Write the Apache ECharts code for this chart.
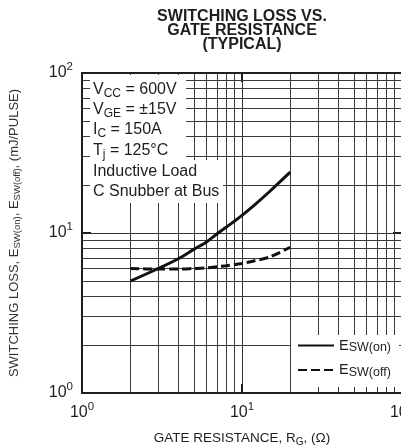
<!DOCTYPE html>
<html>
<head>
<meta charset="utf-8">
<script src="https://cdn.jsdelivr.net/npm/echarts@6/dist/echarts.min.js"></script>
<style>
html,body{margin:0;padding:0;background:#fff;}
#c{width:401px;height:447px;}
</style>
</head>
<body>
<div id="c"></div>
<script>
// Gate resistance (ohm) sample points
var rgOn = [2, 3, 4, 5, 6, 7, 8, 10, 12, 15, 20];
var eswOn = [5.0, 6.0, 6.9, 7.9, 8.8, 9.9, 10.9, 12.9, 15.0, 18.3, 24.0];
var rgOff = [2, 3, 4, 5, 6, 7, 8, 10, 12, 15, 20];
var eswOff = [6.0, 5.95, 5.95, 6.0, 6.05, 6.15, 6.25, 6.45, 6.7, 7.1, 8.15];
// minor grid values (log decades)
var minorX = [2, 3, 4, 5, 6, 7, 8, 9, 20, 30, 40, 50, 60, 70, 80, 90];
var minorY = [2, 3, 4, 5, 6, 7, 8, 9, 20, 30, 40, 50, 60, 70, 80, 90];
var seriesNames = ['E_SW(on)', 'E_SW(off)'];
var notes = [
  '{m|V}{s|CC}{m| = 600V}',
  '{m|V}{s|GE}{m| = \u00b115V}',
  '{m|I}{s|C}{m| = 150A}',
  '{m|T}{s|j}{m| = 125\u00b0C}',
  '{m|Inductive Load}',
  '{m|C Snubber at Bus}'
];

var FONT = 'Liberation Sans, Arial, Helvetica, sans-serif';
var INK = '#1e1e1e';

function pair(xs, ys) { return xs.map(function (x, i) { return [x, ys[i]]; }); }
function expLabel(v) {
  var e = Math.round(Math.log(v) / Math.LN10);
  return '{b|10}{p|' + e + '}';
}
var tickRich = {
  b: { fontSize: 16, lineHeight: 24, color: INK, fontFamily: FONT },
  p: { fontSize: 11.5, lineHeight: 11, color: INK, fontFamily: FONT, verticalAlign: 'top' }
};

var chart = echarts.init(document.getElementById('c'), null, { renderer: 'canvas' });

var baseAxis = {
  type: 'log', logBase: 10, min: 1, max: 100,
  axisLine: { show: true, lineStyle: { color: INK, width: 2 } },
  axisTick: { show: true, inside: true, length: 9, lineStyle: { color: INK, width: 2 } },
  splitLine: { show: false },
  minorTick: { show: false },
  axisLabel: { show: false }
};

var noteGraphics = [
  { type: 'rect', z: 50, shape: { x: 90, y: 75, width: 96, height: 86 }, style: { fill: '#fff' } },
  { type: 'rect', z: 50, shape: { x: 90, y: 160, width: 133, height: 43 }, style: { fill: '#fff' } }
];
var noteY = [80, 100, 120, 141, 162, 182];
notes.forEach(function (t, i) {
  noteGraphics.push({
    type: 'text', z: 60, x: 93, y: noteY[i],
    style: {
      text: t, fill: INK, fontFamily: FONT,
      rich: {
        m: { fontSize: 16, lineHeight: 20, fill: INK, fontFamily: FONT },
        s: { fontSize: 12, lineHeight: 12, fill: INK, fontFamily: FONT, verticalAlign: 'bottom' }
      }
    }
  });
});

var option = {
  animation: false,
  backgroundColor: '#fff',
  title: {
    text: 'SWITCHING LOSS VS.\nGATE RESISTANCE\n(TYPICAL)',
    left: 242, top: 10, padding: 0,
    textAlign: 'center',
    textStyle: { fontFamily: FONT, fontSize: 16, fontWeight: 'bold', lineHeight: 14, color: INK }
  },
  grid: { left: 82, top: 73, width: 320, height: 320, containLabel: false, outerBoundsMode: 'none' },
  legend: {
    data: seriesNames,
    orient: 'vertical',
    left: 291, top: 335,
    padding: [3, 8, 8, 6],
    itemWidth: 36, itemHeight: 14, itemGap: 8,
    backgroundColor: '#fff',
    z: 40,
    itemStyle: { opacity: 0, color: 'rgba(0,0,0,0)', borderWidth: 0 },
    formatter: function (name) {
      return '{e|E}{s|' + name.replace('E_', '') + '}';
    },
    textStyle: {
      color: INK, fontFamily: FONT,
      rich: {
        e: { fontSize: 14.5, lineHeight: 18, color: INK, fontFamily: FONT },
        s: { fontSize: 12.5, lineHeight: 13, color: INK, fontFamily: FONT, verticalAlign: 'bottom' }
      }
    }
  },
  xAxis: [
    Object.assign({}, baseAxis, {
      position: 'bottom',
      splitLine: { show: true, lineStyle: { color: '#333', width: 1 } },
      axisLabel: { show: true, margin: 8, formatter: expLabel, rich: tickRich, showMaxLabel: true, showMinLabel: true },
      name: '{a|GATE RESISTANCE, R}{s|G}{a|, (\u03a9)}',
      nameLocation: 'middle', nameGap: 36,
      nameTextStyle: {
        rich: {
          a: { fontSize: 13.5, lineHeight: 18, color: INK, fontFamily: FONT },
          s: { fontSize: 10, lineHeight: 10, color: INK, fontFamily: FONT, verticalAlign: 'bottom' }
        }
      }
    }),
    Object.assign({}, baseAxis, { position: 'top' })
  ],
  yAxis: [
    Object.assign({}, baseAxis, {
      position: 'left',
      splitLine: { show: true, lineStyle: { color: '#333', width: 1 } },
      axisLabel: { show: true, margin: 9, formatter: expLabel, rich: tickRich, showMaxLabel: true, showMinLabel: true },
      name: '{a|SWITCHING LOSS, E}{s|SW(on)}{a|, E}{s|SW(off)}{a|, (mJ/PULSE)}',
      nameLocation: 'middle', nameGap: 60, nameRotate: 90,
      nameTextStyle: {
        rich: {
          a: { fontSize: 13, lineHeight: 16, color: '#333', fontFamily: FONT },
          s: { fontSize: 9.5, lineHeight: 9, color: '#333', fontFamily: FONT, verticalAlign: 'bottom' }
        }
      }
    }),
    Object.assign({}, baseAxis, { position: 'right' })
  ],
  graphic: noteGraphics,
  series: [
    {
      name: 'grid', type: 'line', z: 1, silent: true,
      data: [], showSymbol: false,
      markLine: {
        silent: true, symbol: ['none', 'none'], animation: false,
        label: { show: false },
        lineStyle: { color: '#3a3a3a', width: 1, type: 'solid' },
        emphasis: { disabled: true },
        data: minorX.map(function (v) { return { xAxis: v }; })
          .concat(minorY.map(function (v) { return { yAxis: v }; }))
      }
    },
    {
      name: seriesNames[0], type: 'line', z: 5,
      data: pair(rgOn, eswOn), smooth: 0.3, showSymbol: false, symbol: 'none',
      lineStyle: { color: '#111', width: 3, type: 'solid', cap: 'butt' },
      itemStyle: { color: '#111' }
    },
    {
      name: seriesNames[1], type: 'line', z: 5,
      data: pair(rgOff, eswOff), smooth: 0.3, showSymbol: false, symbol: 'none',
      lineStyle: { color: '#111', width: 3, type: [9, 4], cap: 'butt' },
      itemStyle: { color: '#111' }
    }
  ]
};
chart.setOption(option);
</script>
</body>
</html>
